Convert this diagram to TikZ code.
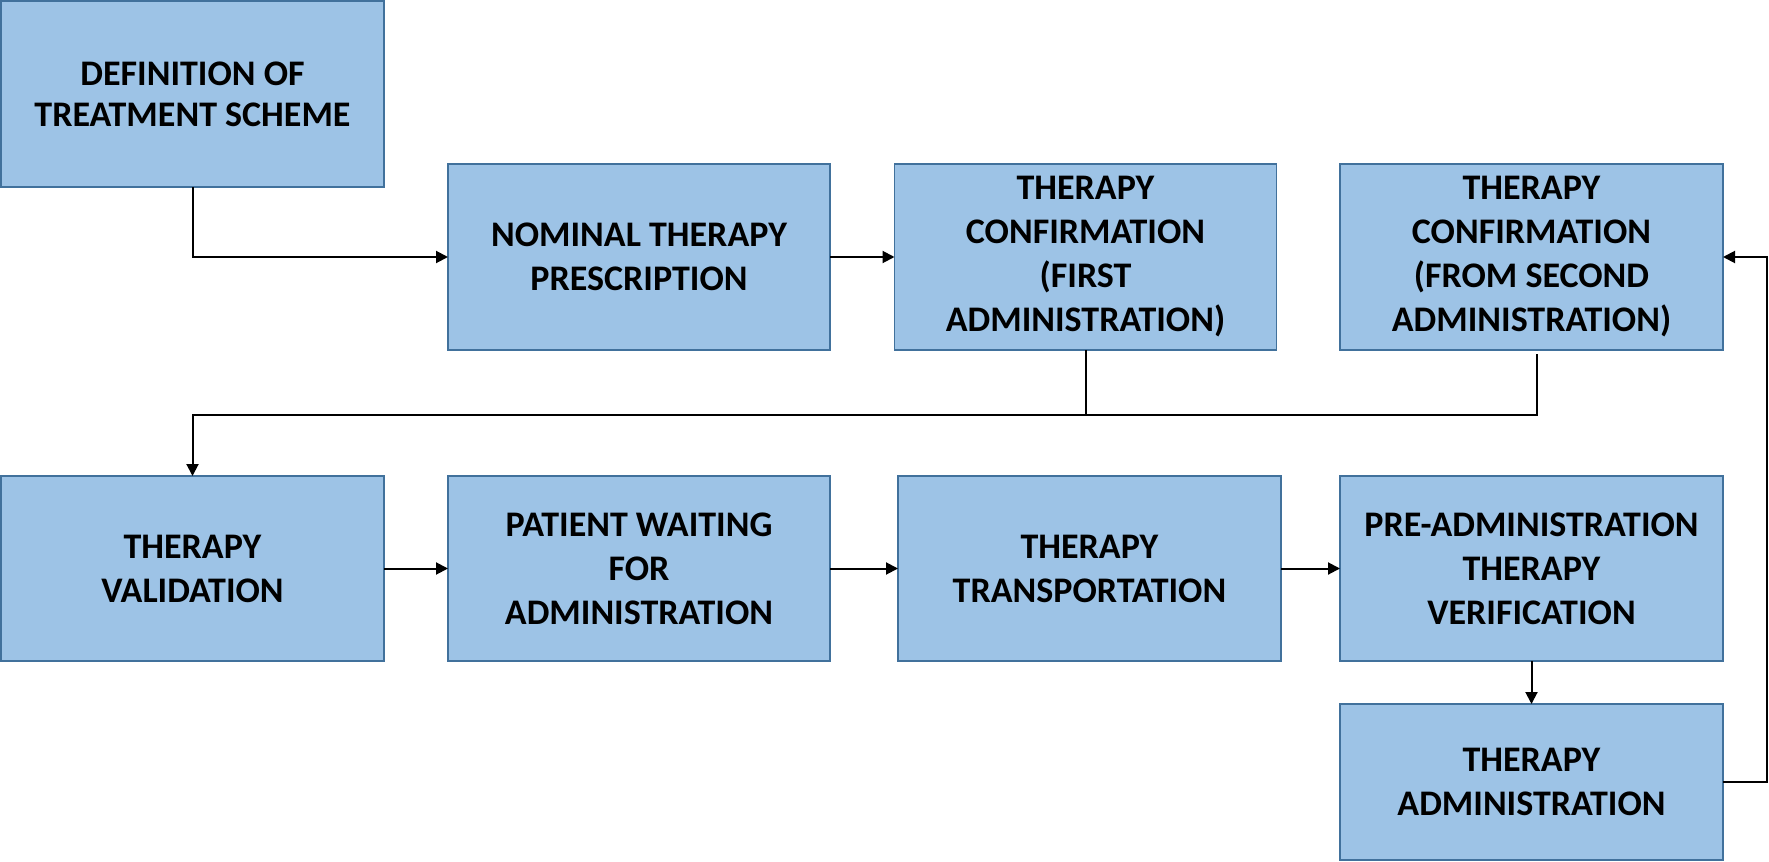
\documentclass[tikz,border=0pt]{standalone}
\usepackage{fontspec}
\setmainfont{Carlito}
\usetikzlibrary{arrows.meta}
\definecolor{boxfill}{HTML}{9DC3E6}
\definecolor{boxline}{HTML}{41719C}
\begin{document}
\begin{tikzpicture}[x=0.5pt,y=-0.5pt,
  box/.style={draw=boxline,fill=boxfill,line width=0.8pt,inner sep=0pt,outer sep=0pt,
    align=center,font=\fontsize{18}{22}\selectfont\bfseries,text=black},
  conn/.style={line width=1pt,black},
  arr/.style={conn,-{Triangle[length=6pt,width=6pt]}}]
\useasboundingbox (0,0) rectangle (1769,862);
\node[box,minimum width=191.5pt,minimum height=93pt,font=\fontsize{18}{20.5}\selectfont\bfseries] (b1) at (192.5,94) {DEFINITION OF\\TREATMENT SCHEME};
\node[box,minimum width=191pt,minimum height=93pt] (b2) at (639,257) {NOMINAL THERAPY\\PRESCRIPTION};
\node[box,minimum width=191pt,minimum height=93pt] (b3) at (1085.5,257) {THERAPY\\CONFIRMATION\\(FIRST\\ADMINISTRATION)};
\node[box,minimum width=191.5pt,minimum height=93pt] (b4) at (1531.5,257) {THERAPY\\CONFIRMATION\\(FROM SECOND\\ADMINISTRATION)};
\node[box,minimum width=191.5pt,minimum height=92.5pt] (b5) at (192.5,568.5) {THERAPY\\VALIDATION};
\node[box,minimum width=191pt,minimum height=92.5pt] (b6) at (639,568.5) {PATIENT WAITING\\FOR\\ADMINISTRATION};
\node[box,minimum width=191.5pt,minimum height=92.5pt] (b7) at (1089.5,568.5) {THERAPY\\TRANSPORTATION};
\node[box,minimum width=191.5pt,minimum height=92.5pt] (b8) at (1531.5,568.5) {PRE-ADMINISTRATION\\THERAPY\\VERIFICATION};
\node[box,minimum width=191.5pt,minimum height=78pt] (b9) at (1531.5,782) {THERAPY\\ADMINISTRATION};
\coordinate (j) at (1085.5,415);
\coordinate (k) at (1537,415);
\coordinate (r) at (1767,782);
\draw[arr] (b1.south) |- (b2.west);
\draw[arr] (b2) -- (b3);
\draw[conn] (b3.south) -- (j);
\draw[arr] ([yshift=-2pt]b4.south -| k) -- (k) -- (k -| b1.south) -- (b5.north);
\draw[arr] (b5) -- (b6);
\draw[arr] (b6) -- (b7);
\draw[arr] (b7) -- (b8);
\draw[arr] (b8) -- (b9);
\draw[arr] (b9.east) -- (r) |- (b4.east);
\end{tikzpicture}
\end{document}
